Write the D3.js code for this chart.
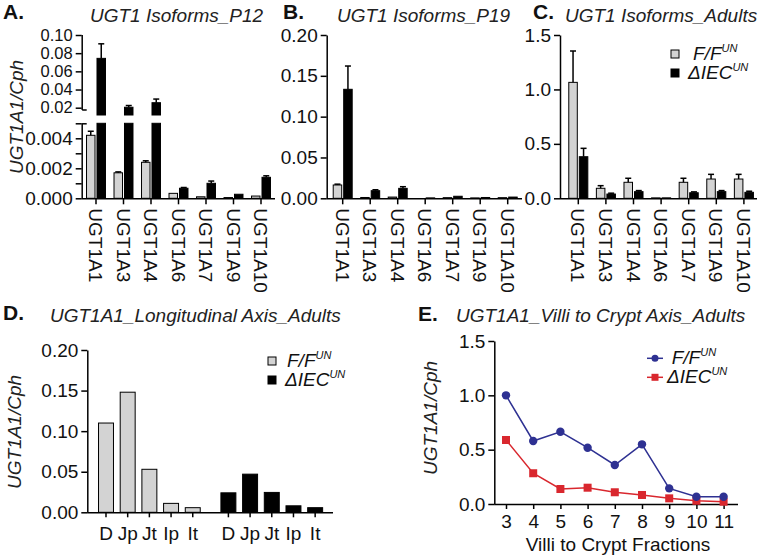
<!DOCTYPE html>
<html><head><meta charset="utf-8">
<script src="https://cdn.jsdelivr.net/npm/d3@7"></script>
<style>
body{margin:0;background:#fff;}
svg{display:block;}
</style></head><body>
<svg id="c" width="762" height="556"></svg>
<script>
// ---------------- data ----------------
const isoforms = ["UGT1A1","UGT1A3","UGT1A4","UGT1A6","UGT1A7","UGT1A9","UGT1A10"];
const seriesKeys = ["ff","iec"];
const p12FF     = [0.0042,0.0017,0.0024,0.00033,0.0001,0.00005,0.00015];
const p12FFErr  = [0.00027,0.00006,0.0001,0.00003,0.00001,0.00001,0.00002];
const p12IEC    = [0.0743,0.0205,0.0255,0.00067,0.001,0.00027,0.0014];
const p12IECErr = [0.016,0.0019,0.004,0.00005,0.00015,0.00003,0.0001];
const p19FF     = [0.0163,0.001,0.0015,0,0.0008,0.0005,0.0008];
const p19FFErr  = [0.001,0.0002,0.0003,0,0.0001,0.0001,0.0001];
const p19IEC    = [0.1335,0.0093,0.0122,0.0005,0.0025,0.001,0.0015];
const p19IECErr = [0.0285,0.0012,0.002,0.0001,0.0005,0.0002,0.0003];
const adFF      = [1.065,0.092,0.147,0.004,0.147,0.177,0.177];
const adFFErr   = [0.288,0.024,0.037,0.001,0.037,0.043,0.043];
const adIEC     = [0.382,0.039,0.061,0.004,0.051,0.061,0.055];
const adIECErr  = [0.077,0.008,0.01,0.001,0.008,0.01,0.01];
const segments  = ["D","Jp","Jt","Ip","It"];
const longFF    = [0.110,0.148,0.053,0.011,0.0057];
const longIEC   = [0.024,0.047,0.0245,0.008,0.0057];
const fractions = [3,4,5,6,7,8,9,10,11];
const vcFF      = [1.0,0.58,0.665,0.518,0.359,0.549,0.144,0.067,0.067];
const vcIEC     = [0.589,0.283,0.138,0.15,0.108,0.083,0.052,0.03,0.021];
const ticksAUpper = [0.02,0.04,0.06,0.08,0.10];
const ticksALower = [0,0.001,0.002,0.003,0.004,0.005];
const labelsALower = ["0.000","","0.002","","0.004",""];
const ticksB = [0,0.05,0.10,0.15,0.20];
const ticksC = [0,0.5,1.0,1.5];
const ticksD = [0,0.05,0.10,0.15,0.20];
const ticksE = [0,0.5,1.0,1.5];
const legendNames = ["F/F","\u0394IEC"];
const legendSup = "UN";
const yTitle = "UGT1A1/Cph";

// ---------------- style ----------------
const FONT = "'Liberation Sans', Arial, sans-serif";
const FS = 19;
const GRAY = "#d3d3d3";
const BLUE = "#2e3192";
const RED = "#d9272e";
const svg = d3.select("#c").attr("font-family", FONT);

function styleAxis(g) {
  g.attr("font-family", FONT).attr("font-size", FS);
  g.select(".domain").attr("stroke", "#000").attr("stroke-width", 1.5);
  g.selectAll(".tick line").attr("stroke", "#000").attr("stroke-width", 1.5);
  g.selectAll(".tick text").attr("fill", "#111");
  return g;
}
function leftAxis(x, scale, ticks, fmt) {
  const g = svg.append("g").attr("transform", `translate(${x},0)`)
    .call(d3.axisLeft(scale).tickValues(ticks).tickFormat(fmt).tickSize(6).tickSizeOuter(0).tickPadding(3));
  return styleAxis(g);
}
function hline(x1, x2, y) {
  svg.append("line").attr("x1", x1).attr("x2", x2).attr("y1", y).attr("y2", y)
    .attr("stroke", "#000").attr("stroke-width", 1.5);
}
function vline(x, y1, y2) {
  svg.append("line").attr("x1", x).attr("x2", x).attr("y1", y1).attr("y2", y2)
    .attr("stroke", "#000").attr("stroke-width", 1.5);
}
function panelLabel(letter, x, y, title, tx, ty) {
  svg.append("text").attr("x", x).attr("y", y).attr("font-weight", "bold").attr("font-size", 21)
    .attr("fill", "#111").text(letter);
  svg.append("text").attr("x", tx).attr("y", ty).attr("font-style", "italic").attr("font-size", FS)
    .attr("fill", "#222").text(title);
}
function yLabel(x, y) {
  svg.append("text").attr("transform", `translate(${x},${y}) rotate(-90)`)
    .attr("text-anchor", "middle").attr("dy", "0.35em").attr("font-style", "italic")
    .attr("font-size", FS).attr("fill", "#222").text(yTitle);
}
function isoXAxis(xB, y, x0, x1) {
  const g = svg.append("g").attr("transform", `translate(0,${y})`)
    .call(d3.axisBottom(xB).tickSize(6).tickSizeOuter(0));
  styleAxis(g);
  g.select(".domain").remove();
  g.selectAll(".tick text").attr("transform", "rotate(90)").attr("x", 10).attr("y", 0)
    .attr("dy", "0.36em").attr("text-anchor", "start");
  hline(x0, x1, y + 0.5);
}
function makeBands(range) {
  const xB = d3.scaleBand().domain(isoforms).range(range).paddingInner(0.31).paddingOuter(0.155);
  const xI = d3.scaleBand().domain(seriesKeys).range([0, xB.bandwidth()]).paddingInner(0.19);
  return [xB, xI];
}
function drawBars(xB, xI, key, vals, errs, y, base, filter, withErr) {
  const fill = key === "ff" ? GRAY : "#000";
  isoforms.forEach((c, i) => {
    const v = vals[i];
    if (!filter(v)) return;
    const x = xB(c) + xI(key), w = xI.bandwidth();
    const top = y(v);
    if (base - top > 0.3) {
      svg.append("rect").attr("x", x).attr("y", top).attr("width", w).attr("height", base - top)
        .attr("fill", fill).attr("stroke", "#000").attr("stroke-width", 1);
    }
    if (withErr(v) && errs[i] > 0) {
      const et = y(v + errs[i]), cx = x + w / 2;
      if (top - et > 0.5) {
        svg.append("line").attr("x1", cx).attr("x2", cx).attr("y1", top).attr("y2", et)
          .attr("stroke", "#000").attr("stroke-width", 1.5);
        svg.append("line").attr("x1", cx - 3).attr("x2", cx + 3).attr("y1", et).attr("y2", et)
          .attr("stroke", "#000").attr("stroke-width", 1.5);
      }
    }
  });
}
function legendBoxes(x, y1, y2, tx1, tx2) {
  [[y1, GRAY, tx1, legendNames[0]], [y2, "#000", tx2, legendNames[1]]].forEach(([yy, fill, tx, name]) => {
    svg.append("rect").attr("x", x).attr("y", yy - 4).attr("width", 8).attr("height", 8)
      .attr("fill", fill).attr("stroke", "#000").attr("stroke-width", 1);
    const t = svg.append("text").attr("x", tx).attr("y", yy + 6).attr("font-style", "italic")
      .attr("font-size", FS).attr("fill", "#111");
    t.append("tspan").text(name);
    t.append("tspan").attr("dy", -8).attr("font-size", 11).text(legendSup);
  });
}

// ---------------- Panel A ----------------
panelLabel("A.", 3, 19, "UGT1 Isoforms_P12", 90, 22);
yLabel(16, 117);
const yAU = d3.scaleLinear().domain([0.02, 0.10]).range([107.7, 35]);
const yAL = d3.scaleLinear().domain([0, 0.005]).range([198.3, 123.3]);
const AX = 81.7;
{
  const gU = leftAxis(AX, yAU, ticksAUpper, d3.format(".2f"));
  gU.select(".domain").remove();
  gU.selectAll(".tick text").attr("font-size", 16.5);
  vline(AX + 0.5, 35, 110);
  hline(AX + 0.5, AX + 5, 110);
  const gL = leftAxis(AX, yAL, ticksALower, (d, i) => labelsALower[i]);
  gL.select(".domain").remove();
  vline(AX + 0.5, 123.3, 198.8);
  hline(AX + 0.5, AX + 5, 123.8);
  const [xB, xI] = makeBands([82.25, 274.75]);
  const lowerY = v => yAL(Math.min(v, 0.005));
  drawBars(xB, xI, "ff", p12FF, p12FFErr, lowerY, yAL(0), v => true, v => v < 0.005);
  drawBars(xB, xI, "iec", p12IEC, p12IECErr, lowerY, yAL(0), v => true, v => v < 0.005);
  drawBars(xB, xI, "iec", p12IEC, p12IECErr, yAU, 115, v => v > 0.005, v => true);
  isoXAxis(xB, 198.3, AX, 275);
}

// ---------------- Panel B ----------------
panelLabel("B.", 283, 19, "UGT1 Isoforms_P19", 337, 22);
{
  const y = d3.scaleLinear().domain([0, 0.2]).range([198.3, 35]);
  leftAxis(326.7, y, ticksB, d3.format(".2f"));
  const [xB, xI] = makeBands([328.95, 521.45]);
  drawBars(xB, xI, "ff", p19FF, p19FFErr, y, y(0), v => true, v => true);
  drawBars(xB, xI, "iec", p19IEC, p19IECErr, y, y(0), v => true, v => true);
  isoXAxis(xB, 198.3, 326.7, 522);
}

// ---------------- Panel C ----------------
panelLabel("C.", 533, 19, "UGT1 Isoforms_Adults", 565, 22);
{
  const y = d3.scaleLinear().domain([0, 1.5]).range([198.3, 35]);
  leftAxis(560, y, ticksC, d3.format(".1f"));
  const [xB, xI] = makeBands([564.5, 757.7]);
  drawBars(xB, xI, "ff", adFF, adFFErr, y, y(0), v => true, v => true);
  drawBars(xB, xI, "iec", adIEC, adIECErr, y, y(0), v => true, v => true);
  isoXAxis(xB, 198.3, 560, 757);
  legendBoxes(671, 54, 73, 693, 688);
}

// ---------------- Panel D ----------------
panelLabel("D.", 3, 320, "UGT1A1_Longitudinal Axis_Adults", 50, 322);
yLabel(14, 432);
{
  const y = d3.scaleLinear().domain([0, 0.2]).range([512.3, 350]);
  leftAxis(87.3, y, ticksD, d3.format(".2f"));
  const xG = d3.scaleBand().domain(seriesKeys).range([95.15, 326]).paddingInner(0.114);
  const xS = d3.scaleBand().domain(segments).range([0, xG.bandwidth()]).paddingInner(0.31).paddingOuter(0.155);
  [["ff", longFF, GRAY], ["iec", longIEC, "#000"]].forEach(([key, vals, fill]) => {
    const g = svg.append("g");
    g.selectAll("rect").data(segments).join("rect")
      .attr("x", d => xG(key) + xS(d)).attr("width", xS.bandwidth())
      .attr("y", (d, i) => y(vals[i])).attr("height", (d, i) => y(0) - y(vals[i]))
      .attr("fill", fill).attr("stroke", "#000").attr("stroke-width", 1);
    const ax = svg.append("g").attr("transform", `translate(${xG(key)},512.3)`)
      .call(d3.axisBottom(xS).tickSize(5).tickSizeOuter(0).tickPadding(9));
    styleAxis(ax);
    ax.select(".domain").remove();
  });
  hline(87.3, 333, 512.8);
  legendBoxes(268, 361, 380, 287, 285);
}

// ---------------- Panel E ----------------
panelLabel("E.", 418, 321, "UGT1A1_Villi to Crypt Axis_Adults", 456, 322);
yLabel(430, 418);
{
  const y = d3.scaleLinear().domain([0, 1.5]).range([504, 341]);
  const x = d3.scaleLinear().domain([3, 11]).range([506, 723.6]);
  const gy = leftAxis(494.3, y, ticksE, d3.format(".1f"));
  const gx = svg.append("g").attr("transform", "translate(0,504)")
    .call(d3.axisBottom(x).tickValues(fractions).tickFormat(d3.format("d")).tickSize(5).tickSizeOuter(0).tickPadding(6));
  styleAxis(gx);
  gx.select(".domain").remove();
  hline(494.3, 738, 504.5);
  svg.append("text").attr("x", 618).attr("y", 551).attr("text-anchor", "middle")
    .attr("font-size", FS).attr("fill", "#111").text("Villi to Crypt Fractions");
  const line = d3.line().x((d, i) => x(fractions[i])).y(d => y(d));
  svg.append("path").datum(vcIEC).attr("d", line).attr("fill", "none").attr("stroke", RED).attr("stroke-width", 1.5);
  svg.append("path").datum(vcFF).attr("d", line).attr("fill", "none").attr("stroke", BLUE).attr("stroke-width", 1.5);
  svg.append("g").selectAll("rect").data(vcIEC).join("rect")
    .attr("x", (d, i) => x(fractions[i]) - 4).attr("y", d => y(d) - 4).attr("width", 8).attr("height", 8)
    .attr("fill", RED);
  svg.append("g").selectAll("circle").data(vcFF).join("circle")
    .attr("cx", (d, i) => x(fractions[i])).attr("cy", d => y(d)).attr("r", 4.2).attr("fill", BLUE);
  // legend
  [[358.3, BLUE, 671.7, legendNames[0], "c"], [377.3, RED, 667, legendNames[1], "s"]].forEach(([yy, col, tx, name, m]) => {
    svg.append("line").attr("x1", 647).attr("x2", 663).attr("y1", yy).attr("y2", yy).attr("stroke", col).attr("stroke-width", 1.5);
    if (m === "c") svg.append("circle").attr("cx", 655).attr("cy", yy).attr("r", 3.5).attr("fill", col);
    else svg.append("rect").attr("x", 651.5).attr("y", yy - 3.5).attr("width", 7).attr("height", 7).attr("fill", col);
    const t = svg.append("text").attr("x", tx).attr("y", yy + 6).attr("font-style", "italic")
      .attr("font-size", FS).attr("fill", "#111");
    t.append("tspan").text(name);
    t.append("tspan").attr("dy", -8).attr("font-size", 11).text(legendSup);
  });
}
</script>
</body></html>
